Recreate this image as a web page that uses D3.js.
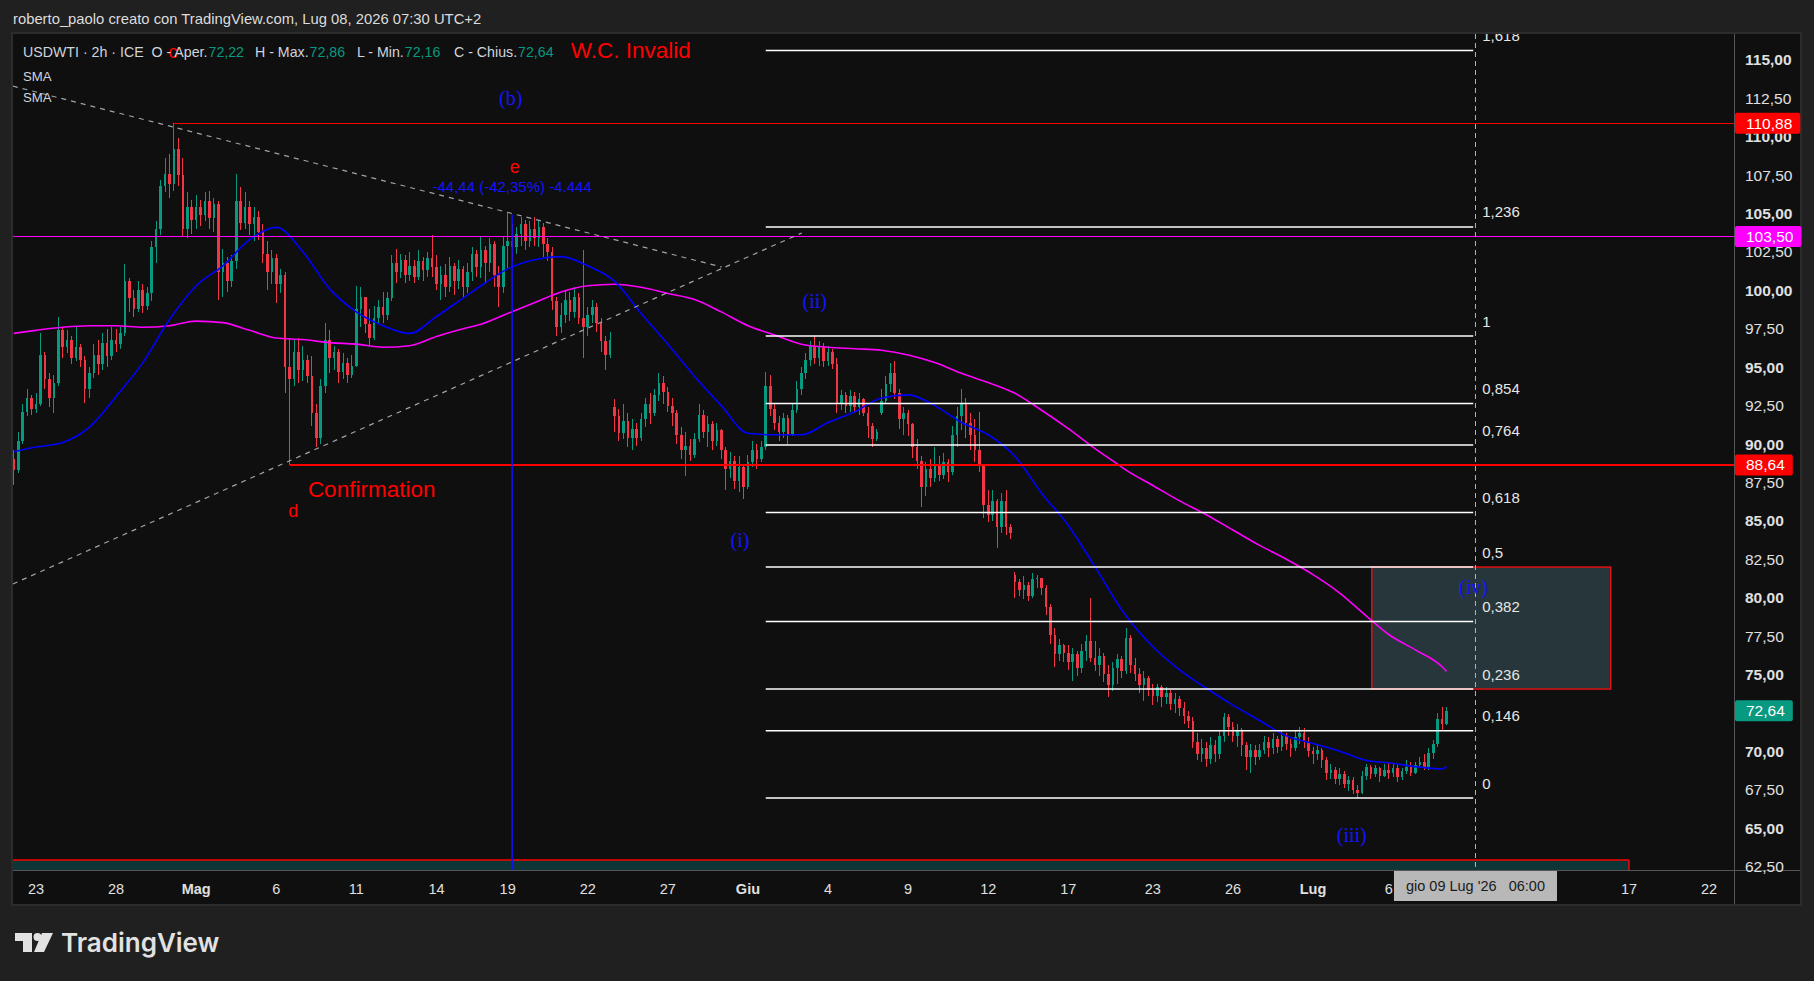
<!DOCTYPE html>
<html>
<head>
<meta charset="utf-8">
<title>USDWTI 2h</title>
<script src="https://cdn.jsdelivr.net/npm/d3@7"></script>
<style>
  html, body { margin: 0; padding: 0; background: #202020; }
  svg { display: block; font-family: "Liberation Sans", Arial, sans-serif; }
</style>
</head>
<body>
<svg id="chart" width="1814" height="981"></svg>
<script>
// ---------- data ----------
// trading days on the time axis and how many 4h bar slots each one takes
const sessionDays = ["04-22","04-23","04-24","04-27","04-28","04-29","04-30","05-01","05-04","05-05",
  "05-06","05-07","05-08","05-11","05-12","05-13","05-14","05-15","05-18","05-19","05-20","05-21",
  "05-22","05-25","05-26","05-27","05-28","05-29","06-01","06-02","06-03","06-04","06-05","06-08",
  "06-09","06-10","06-11","06-12","06-15","06-16","06-17","06-18","06-19","06-22","06-23","06-24",
  "06-25","06-26","06-29","06-30","07-01","07-02","07-03","07-06","07-07","07-08","07-09","07-10",
  "07-13","07-14","07-15","07-16","07-17","07-20","07-21","07-22","07-23"];
const sessionSlots = [5,6,6,6,6,6,6,6,6,6, 6,6,6,6,6,6,6,4,6,6,6,6, 6,6,6,6,6,6,6,6,6,6,6,6,
  6,6,6,6,6,6,6,6,1,6,6,6, 6,6,6,6,6,6,5,6,6,6,6,6, 6,6,6,6,6,6,6,6,6];

const tickDays   = ["04-23","04-28","05-01","05-06","05-11","05-14","05-19","05-22","05-27","06-01",
  "06-04","06-09","06-12","06-17","06-23","06-26","07-01","07-06","07-17","07-22"];
const tickLabels = ["23","28","Mag","6","11","14","19","22","27","Giu",
  "4","9","12","17","23","26","Lug","6","17","22"];
const monthTicks = ["Mag","Giu","Lug"];

// 4h candles (one line per trading day), open = previous close unless listed in gapOpens
const firstOpen = 89.0;
const gapOpens = [[135, 92.4], [195, 92.0], [225, 81.5]];
const closes = [
  88.3,90.2,92.1,93.0,92.3,
  92.6,95.8,94.2,93.0,94.0,97.4,
  96.3,96.8,95.6,96.3,95.5,93.6,
  94.6,95.8,95.2,96.6,95.7,96.8,
  96.5,97.2,100.6,99.5,98.8,100.0,
  99.0,99.8,102.8,104.0,106.8,107.6,
  106.9,109.2,107.5,104.0,105.4,104.6,
  105.4,104.9,105.8,104.7,105.6,101.2,
  101.8,100.6,101.9,105.8,104.4,105.4,
  104.3,104.8,103.8,102.4,101.2,102.1,
  100.4,101.0,95.0,94.2,96.0,94.8,
  95.5,94.4,92.0,90.4,93.8,96.8,
  95.6,96.0,94.7,95.3,94.5,95.1,
  98.8,99.6,97.8,96.9,98.2,98.9,
  98.4,99.5,101.8,101.2,102.0,101.0,
  101.6,100.9,101.9,101.3,102.1,101.5,
  100.4,101.0,100.2,101.6,100.6,101.4,
  100.2,101.2,102.4,101.5,
  102.6,101.8,103.0,101.0,100.2,102.9,
  103.2,102.8,103.7,104.3,103.2,104.0,
  103.4,104.1,103.0,102.5,99.3,97.6,
  98.4,99.4,98.6,99.6,98.2,97.6,
  98.4,98.9,97.9,96.7,95.8,96.8,
  91.8,90.7,91.5,90.4,91.0,90.4,
  91.6,92.6,92.0,93.2,94.0,93.4,
  92.5,92.0,90.6,89.6,89.9,89.3,
  90.3,91.9,90.8,91.3,90.2,90.9,
  89.6,88.4,88.9,87.6,88.5,87.2,
  88.8,89.6,89.0,89.8,93.8,92.3,
  91.4,90.8,91.7,90.6,92.2,93.6,
  94.6,95.5,96.4,95.6,96.3,95.4,
  96.0,95.2,92.6,93.2,92.5,93.1,
  92.4,92.9,92.0,91.2,90.3,90.8,
  92.8,93.9,94.6,93.3,91.6,92.0,
  91.3,89.8,88.9,87.2,88.4,87.8,
  88.6,88.0,88.8,88.2,90.6,91.8,
  92.6,91.4,90.6,89.6,88.6,86.0,
  85.4,86.3,84.6,86.3,84.6,84.2,
  81.0,80.5,80.8,80.1,81.2,81.3,
  80.6,79.4,77.6,76.3,76.9,76.4,
  75.8,76.3,75.4,76.5,77.2,76.1,
  75.6,76.2,75.0,74.3,75.4,76.0,
  75.2,
  77.4,75.6,75.0,74.3,74.8,74.0,
  73.6,74.2,73.5,73.8,73.1,73.4,
  72.8,72.3,72.0,70.6,69.8,70.2,
  69.5,70.4,69.8,71.0,72.2,71.6,
  71.0,71.4,70.4,69.6,70.1,69.6,
  70.1,70.6,70.2,70.8,70.3,71.0,
  70.5,70.2,70.9,71.2,70.6,70.0,
  69.8,70.1,69.4,68.6,68.8,68.2,
  68.5,67.9,68.1,67.5,67.3,68.4,
  69.0,68.5,68.9,68.4,68.8,
  68.6,68.9,68.3,68.7,69.0,68.6,
  69.1,69.3,69.0,69.9,70.5,72.1,
  71.8,72.64];
const highs = [
  89.6,90.8,92.6,93.6,93.2,
  93.3,97.2,96.0,94.6,94.5,98.3,
  97.6,97.4,97.0,97.6,96.5,95.7,
  95.0,96.5,96.8,97.2,97.5,97.6,
  97.5,97.6,101.7,100.8,100.0,100.6,
  100.4,100.2,103.2,104.5,107.2,108.6,
  108.9,110.9,109.9,108.6,106.4,105.9,
  106.2,105.9,106.4,106.5,106.0,105.8,
  102.7,102.2,102.3,107.6,106.7,106.4,
  105.8,105.4,105.2,104.3,103.2,102.6,
  102.4,101.4,101.2,96.9,96.8,96.9,
  96.4,95.8,95.7,92.6,94.2,97.9,
  97.4,96.4,96.2,95.9,95.6,95.8,
  100.3,100.2,99.4,98.8,99.0,99.4,
  99.9,99.9,102.3,102.7,102.4,102.3,
  102.5,102.0,102.6,102.2,102.5,103.6,
  102.3,101.6,101.7,102.2,101.8,102.0,
  101.6,101.8,102.8,102.6,
  103.5,102.9,103.4,103.2,101.6,103.5,
  105.1,104.3,104.1,104.8,104.6,104.5,
  104.8,104.5,104.4,103.4,102.8,99.6,
  99.2,100.0,99.9,100.2,99.8,102.6,
  98.9,99.4,99.2,98.2,97.0,97.3,
  92.9,92.3,92.6,92.0,91.6,91.4,
  92.0,93.0,93.3,93.6,94.6,94.4,
  93.7,93.0,92.2,91.1,90.8,90.3,
  90.7,92.6,92.2,91.8,91.5,91.4,
  91.0,89.8,89.5,89.2,89.2,88.6,
  89.3,90.2,90.0,90.2,94.7,94.5,
  92.7,91.8,92.0,91.9,92.6,94.1,
  95.0,95.9,96.7,97.03,96.7,96.6,
  96.4,96.2,95.6,93.5,93.4,93.5,
  93.4,93.3,93.0,92.4,91.4,91.0,
  93.6,94.4,95.3,95.4,93.6,92.4,
  92.2,91.4,90.3,89.2,88.8,89.0,
  89.8,89.2,89.4,89.0,91.2,92.4,
  93.6,93.0,92.0,91.6,92.1,88.4,
  87.0,87.0,86.4,86.8,87.0,84.8,
  81.7,81.2,81.4,81.0,81.6,81.5,
  81.3,80.8,79.6,78.0,77.3,77.0,
  76.9,76.7,76.5,77.0,77.6,80.0,
  77.2,76.7,76.4,75.6,75.8,76.3,
  76.2,
  78.0,77.6,76.1,75.4,75.2,74.9,
  74.4,74.4,74.3,74.2,74.0,73.8,
  73.6,73.2,72.6,72.2,71.2,70.8,
  70.6,70.9,70.7,71.3,72.5,72.4,
  71.9,71.8,71.5,70.6,70.5,70.4,
  70.5,71.0,70.9,71.2,71.0,71.3,
  71.2,70.8,71.3,71.6,71.5,70.9,
  70.3,70.4,70.2,69.6,69.2,69.0,
  68.9,68.7,68.4,68.3,67.8,68.7,
  69.2,69.1,69.1,69.0,69.2,
  69.3,69.2,69.1,68.9,69.4,69.3,
  69.3,69.6,69.8,70.2,70.7,72.5,
  72.9,72.86];
const lows = [
  87.3,88.1,90.0,91.8,91.9,
  92.0,92.5,93.6,92.4,92.0,93.8,
  95.6,95.9,95.2,95.4,95.0,92.7,
  93.0,94.3,94.5,94.8,95.0,95.5,
  96.0,96.2,97.0,98.6,98.3,98.6,
  98.5,98.7,99.3,101.8,103.6,106.4,
  106.0,106.5,106.8,103.5,103.4,103.7,
  104.0,104.2,104.5,104.0,103.8,99.4,
  99.6,99.9,100.2,101.4,103.9,104.0,
  103.6,103.2,103.3,101.8,100.0,100.4,
  99.2,99.8,93.3,88.64,93.8,94.0,
  94.1,94.0,91.2,89.8,90.0,93.3,
  94.6,94.8,94.0,94.2,94.0,94.3,
  95.0,97.6,97.2,96.4,96.8,97.9,
  97.9,98.1,99.3,100.5,100.8,100.5,
  100.6,100.5,100.7,100.6,100.9,100.9,
  100.0,99.4,99.6,99.9,99.7,100.1,
  99.6,99.8,100.6,100.9,
  100.8,100.4,101.2,100.2,98.9,99.8,
  101.4,102.0,102.4,102.9,102.6,102.8,
  102.9,102.8,102.2,101.9,98.7,97.0,
  97.2,97.9,98.0,98.2,97.8,95.6,
  97.0,97.9,97.3,96.0,94.8,95.6,
  90.8,90.2,90.3,89.8,89.6,89.9,
  90.2,91.1,91.3,91.8,92.8,92.6,
  92.1,91.2,90.0,89.0,87.9,88.9,
  89.1,90.1,90.4,89.8,89.6,89.9,
  89.0,87.0,87.8,87.1,86.9,86.4,
  87.1,88.5,88.4,88.8,89.6,91.8,
  90.9,90.2,90.4,90.0,90.5,92.0,
  93.2,94.2,95.1,95.2,95.1,95.0,
  95.1,94.9,92.0,92.2,92.0,92.1,
  92.0,91.9,91.8,90.4,89.8,90.2,
  91.9,92.6,93.4,92.9,91.0,90.6,
  90.5,89.1,88.4,85.9,86.6,87.2,
  87.5,87.6,87.7,87.5,88.0,89.8,
  90.9,90.4,89.6,88.8,88.2,85.2,
  84.9,85.0,83.2,84.2,84.1,83.8,
  80.0,80.1,79.9,79.8,80.0,80.6,
  80.2,78.9,77.0,75.5,75.9,75.8,
  75.3,74.6,74.9,75.1,75.9,75.8,
  75.2,74.9,74.5,73.5,73.9,74.4,
  74.8,
  75.0,75.1,74.6,73.8,73.3,73.6,
  73.0,73.2,72.9,73.1,72.7,72.5,
  72.3,71.8,71.5,70.2,69.4,69.3,
  69.0,69.2,69.3,69.5,70.6,71.0,
  70.6,70.3,69.7,68.8,68.6,69.1,
  69.4,69.8,69.6,69.8,69.9,70.0,
  70.1,69.6,70.0,70.5,70.2,69.6,
  69.2,69.4,68.9,68.1,68.2,67.9,
  67.8,67.6,67.4,67.2,66.95,67.2,
  68.1,68.2,68.3,68.0,68.3,
  68.2,68.3,68.0,68.1,68.5,68.4,
  68.5,68.9,68.8,68.8,69.5,70.3,
  71.4,71.7];

// moving averages, read at the first bar of each trading day (last value = last bar)
const smaFast = [89.5,89.8,90.1,91.1,93.1,95.3,98.1,100.3,101.6,103.3,104.1,102.5,100.1,98.6,
  97.7,97.2,98.3,99.5,100.3,101.4,102.0,102.2,101.6,100.6,98.5,96.5,94.4,92.5,90.7,90.6,90.6,
  91.4,92.1,93.0,93.2,92.5,91.4,90.6,89.2,86.8,84.7,82.0,79.2,78.8,76.8,75.3,74.1,73.0,72.0,
  71.0,70.5,70.0,69.4,69.25,69.0,68.85,69.0];
const smaSlow = [97.2,97.4,97.6,97.7,97.7,97.6,97.7,98.0,97.9,97.4,96.9,96.8,96.6,96.5,96.3,
  96.4,97.0,97.5,97.8,98.5,99.2,99.9,100.3,100.4,100.2,99.8,99.4,98.6,97.7,97.1,96.5,96.3,96.2,
  96.1,95.8,95.3,94.6,94.0,93.3,92.2,91.0,89.7,88.5,88.3,87.3,86.3,85.4,84.4,83.4,82.5,81.5,
  80.3,78.8,77.6,76.6,75.5,75.2];

// price axis
const priceTicks = d3.range(62.5, 115.01, 2.5);
const priceTags = [[110.88, "#ff0000"], [103.50, "#ff00ff"], [88.64, "#ff0000"], [72.64, "#089981"]];

// legend of the last bar
const legendValues = [72.22, 72.86, 72.16, 72.64];
const legendNames = ["O - Aper.", "H - Max.", "L - Min.", "C - Chius."];

// drawings: horizontal rays [price, from slot, colour]
const hLines = [[110.88, 36, "#ff0000"], [103.50, -1, "#ff00ff"], [88.64, 62, "#ff0000"]];
// dashed triangle sides [[slot, price], [slot, price]]
const trendLines = [[[-0.2, 113.3], [159.1, 101.52]], [[-0.2, 80.89], [177.1, 103.74]]];
// fibonacci retracement
const fibHigh = 97.03, fibLow = 66.95;
const fibLevels = [0, 0.146, 0.236, 0.382, 0.5, 0.618, 0.764, 0.854, 1, 1.236, 1.618];
const fibSlots = [169, 328];
// wave (iv) target box: slots and fib levels
const zoneSlots = [305.2, 358.9];
const zoneLevels = [0.236, 0.5];
// strip at the bottom: slots and prices
const stripSlots = [-2, 363];
const stripPrices = [60, 62.92];
// price range tool
const measure = { slot: 112, from: 104.94, to: 60.5, text: "-44,44 (-42,35%) -4.444" };
// crosshair
const crosshair = { day: "07-09", hour: 6, label: "gio 09 Lug '26   06:00" };
// text notes [text, slot, price, colour, kind]
const notes = [
  ["c", 35.8, 115.52, "#ff0000", "wave"],
  ["W.C. Invalid", 125.2, 115.59, "#ff0000", "big"],
  ["(b)", 111.7, 112.53, "#1414ff", "count"],
  ["e", 112.6, 108.0, "#ff0000", "wave"],
  ["d", 62.8, 85.64, "#ff0000", "wave"],
  ["Confirmation", 66.1, 87.07, "#ff0000", "big"],
  ["(i)", 163.2, 83.75, "#1414ff", "count"],
  ["(ii)", 180.0, 99.31, "#1414ff", "count"],
  ["(iii)", 300.7, 64.55, "#1414ff", "count"],
  ["(iv)", 328.0, 80.69, "#1414ff", "count"]
];

// ---------- layout ----------
const W = 1814, H = 981;
const plot = { left: 13, right: 1734, top: 34, bottom: 870 };
const frame = { left: 12, right: 1801, top: 33, bottom: 905 };
const UP = "#089981", DOWN = "#f23645", TEXT = "#d1d4dc";

const it = d3.formatLocale({ decimal: ",", thousands: ".", grouping: [3], currency: ["", " €"] });
const fmtPrice = it.format(".2f");
const fmtFib = it.format("~g");

const dayStart = {};
let acc = 0;
sessionDays.forEach((d, i) => { dayStart[d] = acc; acc += sessionSlots[i]; });

const x = d3.scaleLinear().domain([-0.17, 386.6]).range([plot.left, plot.right]);
const y = d3.scaleLinear().domain([62.27, 116.69]).range([plot.bottom, plot.top]);
const fibPrice = l => fibLow + l * (fibHigh - fibLow);

const svg = d3.select("#chart");
svg.append("rect").attr("width", W).attr("height", H).attr("fill", "#202020");

svg.append("text").attr("x", 13).attr("y", 19).attr("dominant-baseline", "central")
  .attr("font-size", 14.8).attr("fill", "#dcdcdc")
  .text("roberto_paolo creato con TradingView.com, Lug 08, 2026 07:30 UTC+2");

svg.append("rect")
  .attr("x", frame.left).attr("y", frame.top)
  .attr("width", frame.right - frame.left).attr("height", frame.bottom - frame.top)
  .attr("fill", "#0f0f0f").attr("stroke", "#2c2c2c").attr("stroke-width", 2);

svg.append("clipPath").attr("id", "plotClip").append("rect")
  .attr("x", plot.left).attr("y", plot.top)
  .attr("width", plot.right - plot.left).attr("height", plot.bottom - plot.top);
const g = svg.append("g").attr("clip-path", "url(#plotClip)");

// bottom strip
g.append("rect")
  .attr("x", x(stripSlots[0])).attr("y", y(stripPrices[1]))
  .attr("width", x(stripSlots[1]) - x(stripSlots[0]))
  .attr("height", y(stripPrices[0]) - y(stripPrices[1]))
  .attr("fill", "#0e3636");
g.append("line")
  .attr("x1", x(stripSlots[0])).attr("x2", x(stripSlots[1]))
  .attr("y1", y(stripPrices[1])).attr("y2", y(stripPrices[1]))
  .attr("stroke", "#ff0000").attr("stroke-width", 1.5);
g.append("line")
  .attr("x1", x(stripSlots[1])).attr("x2", x(stripSlots[1]))
  .attr("y1", y(stripPrices[1])).attr("y2", y(stripPrices[0]))
  .attr("stroke", "#ff0000").attr("stroke-width", 1.5);

// wave (iv) zone
g.append("rect")
  .attr("x", x(zoneSlots[0])).attr("y", y(fibPrice(zoneLevels[1])))
  .attr("width", x(zoneSlots[1]) - x(zoneSlots[0]))
  .attr("height", y(fibPrice(zoneLevels[0])) - y(fibPrice(zoneLevels[1])))
  .attr("fill", "#26363a").attr("stroke", "#e01010").attr("stroke-width", 1.5);

// candles
const gapMap = new Map(gapOpens);
const bars = closes.map((c, i) => ({
  i, c, h: highs[i], l: lows[i],
  o: i === 0 ? firstOpen : (gapMap.has(i) ? gapMap.get(i) : closes[i - 1])
}));
const bodyW = 2.6;
const cg = g.append("g").attr("shape-rendering", "crispEdges");
cg.selectAll("line").data(bars).join("line")
  .attr("x1", d => x(d.i)).attr("x2", d => x(d.i))
  .attr("y1", d => y(Math.max(d.h, d.o, d.c))).attr("y2", d => y(Math.min(d.l, d.o, d.c)))
  .attr("stroke", d => d.c >= d.o ? UP : DOWN).attr("stroke-width", 1);
cg.selectAll("rect").data(bars).join("rect")
  .attr("x", d => x(d.i) - bodyW / 2).attr("width", bodyW)
  .attr("y", d => y(Math.max(d.o, d.c)))
  .attr("height", d => Math.max(1, Math.abs(y(d.o) - y(d.c))))
  .attr("fill", d => d.c >= d.o ? UP : DOWN);

// moving averages
const dataDays = sessionDays.slice(0, smaFast.length - 1);
const smaSlots = dataDays.map(d => dayStart[d]).concat([closes.length - 1]);
const smaLine = d3.line().x((d, i) => x(smaSlots[i])).y(d => y(d)).curve(d3.curveMonotoneX);
g.append("path").attr("d", smaLine(smaSlow)).attr("fill", "none")
  .attr("stroke", "#ff00ff").attr("stroke-width", 1.6);
g.append("path").attr("d", smaLine(smaFast)).attr("fill", "none")
  .attr("stroke", "#0000ff").attr("stroke-width", 1.6);

// horizontal rays
g.selectAll(".hline").data(hLines).join("line").attr("class", "hline")
  .attr("x1", d => x(d[1])).attr("x2", plot.right)
  .attr("y1", d => y(d[0])).attr("y2", d => y(d[0]))
  .attr("stroke", d => d[2]).attr("stroke-width", 1.2).attr("shape-rendering", "crispEdges");

// dashed triangle
g.selectAll(".trend").data(trendLines).join("line").attr("class", "trend")
  .attr("x1", d => x(d[0][0])).attr("y1", d => y(d[0][1]))
  .attr("x2", d => x(d[1][0])).attr("y2", d => y(d[1][1]))
  .attr("stroke", "#a0a3ab").attr("stroke-width", 1.2).attr("stroke-dasharray", "5,5");

// fibonacci
g.selectAll(".fib").data(fibLevels).join("line").attr("class", "fib")
  .attr("x1", x(fibSlots[0])).attr("x2", x(fibSlots[1]))
  .attr("y1", d => y(fibPrice(d))).attr("y2", d => y(fibPrice(d)))
  .attr("stroke", "#ffffff").attr("stroke-width", 1.5);
g.selectAll(".fibt").data(fibLevels).join("text").attr("class", "fibt")
  .attr("x", x(fibSlots[1]) + 9).attr("y", d => y(fibPrice(d)) - 15)
  .attr("dominant-baseline", "central").attr("font-size", 15).attr("fill", "#e6e6e6")
  .text(d => fmtFib(d));

// price range tool
g.append("line")
  .attr("x1", x(measure.slot)).attr("x2", x(measure.slot))
  .attr("y1", y(measure.from)).attr("y2", y(measure.to))
  .attr("stroke", "#1010ff").attr("stroke-width", 1.5);
g.append("text").attr("x", x(measure.slot)).attr("y", y(measure.from) - 28)
  .attr("text-anchor", "middle").attr("dominant-baseline", "central")
  .attr("font-size", 15).attr("fill", "#1414ff").text(measure.text);

// crosshair
const crossSlot = dayStart[crosshair.day] + crosshair.hour / 4;
g.append("line")
  .attr("x1", x(crossSlot)).attr("x2", x(crossSlot))
  .attr("y1", plot.top).attr("y2", plot.bottom)
  .attr("stroke", "#b2b5be").attr("stroke-width", 1).attr("stroke-dasharray", "5,4");

// notes
const noteStyle = {
  wave:  { size: 18, family: "Liberation Sans, sans-serif", anchor: "middle" },
  big:   { size: 22.5, family: "Liberation Sans, sans-serif", anchor: "start" },
  count: { size: 20, family: "Liberation Serif, serif", anchor: "middle" }
};
g.selectAll(".note").data(notes).join("text").attr("class", "note")
  .attr("x", d => x(d[1])).attr("y", d => y(d[2]))
  .attr("text-anchor", d => noteStyle[d[4]].anchor)
  .attr("dominant-baseline", "central")
  .attr("font-family", d => noteStyle[d[4]].family)
  .attr("font-size", d => noteStyle[d[4]].size)
  .attr("fill", d => d[3]).text(d => d[0]);

// legend: symbol, then each name/value pair as its own block
const legend = svg.append("g").attr("font-size", 14.2);
const legendStarts = [151.5, 255, 357, 454];
legend.append("text").attr("x", 23).attr("y", 52).attr("dominant-baseline", "central")
  .attr("fill", TEXT).text("USDWTI · 2h · ICE");
legendNames.forEach((n, i) => {
  const t = legend.append("text").attr("x", legendStarts[i]).attr("y", 52)
    .attr("dominant-baseline", "central");
  t.append("tspan").attr("fill", TEXT).text(n);
  t.append("tspan").attr("fill", UP).attr("dx", 1).text(fmtPrice(legendValues[i]));
});
["SMA", "SMA"].forEach((t, i) =>
  svg.append("text").attr("x", 23).attr("y", 76 + i * 21).attr("dominant-baseline", "central")
    .attr("font-size", 13.2).attr("fill", TEXT).text(t));

// axes frame lines
svg.append("line").attr("x1", plot.right).attr("x2", plot.right)
  .attr("y1", frame.top + 1).attr("y2", frame.bottom - 1)
  .attr("stroke", "#555").attr("shape-rendering", "crispEdges");
svg.append("line").attr("x1", frame.left + 1).attr("x2", frame.right - 1)
  .attr("y1", plot.bottom).attr("y2", plot.bottom)
  .attr("stroke", "#555").attr("shape-rendering", "crispEdges");

// price axis
svg.selectAll(".ptick").data(priceTicks).join("text").attr("class", "ptick")
  .attr("x", plot.right + 11).attr("y", d => y(d))
  .attr("dominant-baseline", "central").attr("font-size", 15.5)
  .attr("font-weight", d => Math.abs(d % 5) < 1e-9 ? "bold" : "normal")
  .attr("fill", "#e0e0e0").text(d => fmtPrice(d));

priceTags.forEach(([p, col]) => {
  const tg = svg.append("g");
  const r = tg.append("rect").attr("x", plot.right + 1).attr("y", y(p) - 10.5)
    .attr("height", 21).attr("rx", 2).attr("fill", col);
  const t = tg.append("text").attr("x", plot.right + 12).attr("y", y(p))
    .attr("dominant-baseline", "central").attr("font-size", 15.5)
    .attr("fill", "#ffffff").text(fmtPrice(p));
  r.attr("width", t.node().getComputedTextLength() + 19);
});

// time axis
svg.selectAll(".ttick").data(tickDays).join("text").attr("class", "ttick")
  .attr("x", d => x(dayStart[d])).attr("y", 889)
  .attr("text-anchor", "middle").attr("dominant-baseline", "central")
  .attr("font-size", 14.5).attr("fill", "#e0e0e0")
  .attr("font-weight", (d, i) => monthTicks.includes(tickLabels[i]) ? "bold" : "normal")
  .text((d, i) => tickLabels[i]);

const cx = x(crossSlot);
const cl = svg.append("g");
const clRect = cl.append("rect").attr("y", plot.bottom + 1).attr("height", 30).attr("fill", "#b8b8b8");
const clText = cl.append("text").attr("x", cx).attr("y", plot.bottom + 16)
  .attr("text-anchor", "middle").attr("dominant-baseline", "central")
  .attr("font-size", 14.5).attr("fill", "#1a1a1a").style("white-space", "pre").text(crosshair.label);
const clW = clText.node().getComputedTextLength() + 24;
clRect.attr("x", cx - clW / 2).attr("width", clW);

// TradingView logo
const logo = svg.append("g").attr("fill", "#e2e2e2");
logo.append("path").attr("d", "M15,933 H32 V952 H23 V941 H15 Z");
logo.append("circle").attr("cx", 37.5).attr("cy", 937).attr("r", 4);
logo.append("path").attr("d", "M42,933 H53 L44,952 H34 Z");
logo.append("text").attr("x", 61).attr("y", 952)
  .attr("font-family", "Inter, Lato, sans-serif").attr("font-weight", 600)
  .attr("font-size", 26).text("TradingView");
</script>
</body>
</html>
